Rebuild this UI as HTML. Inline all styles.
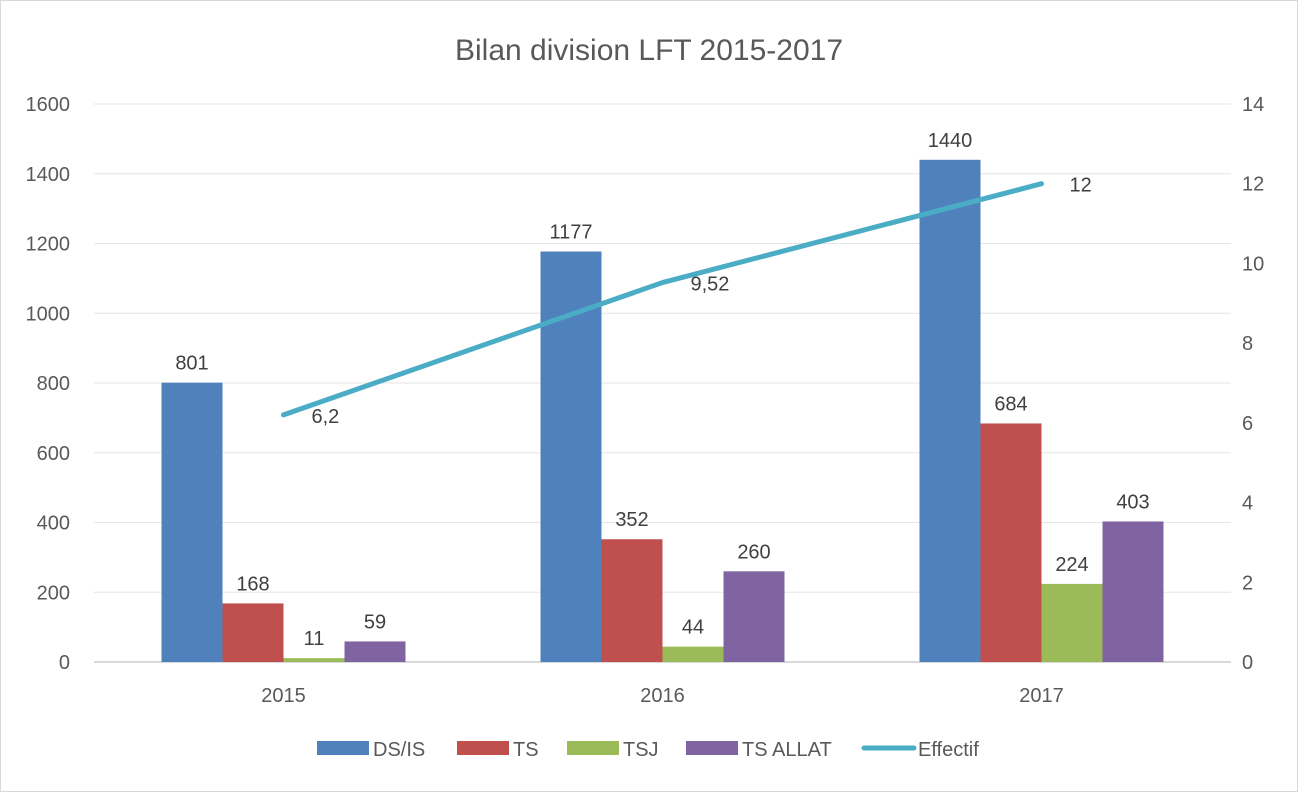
<!DOCTYPE html>
<html><head><meta charset="utf-8"><style>
body{margin:0;background:#fff}
svg{display:block;font-family:"Liberation Sans",sans-serif}
</style></head><body>
<svg id="c" width="1298" height="792">
<rect x="0.5" y="0.5" width="1297" height="791" fill="#fff" stroke="#d9d9d9"/>
<text x="649" y="60" font-size="30" fill="#595959" text-anchor="middle">Bilan division LFT 2015-2017</text>
<g id="grid"></g><g id="bars"></g><g id="line"></g><g id="labels"></g><g id="legend"></g>
</svg>
<script>
const categories=["2015","2016","2017"];
const seriesNames=["DS/IS","TS","TSJ","TS ALLAT"];
const dsis=[801,1177,1440];
const ts=[168,352,684];
const tsj=[11,44,224];
const tsallat=[59,260,403];
const effectif=[6.2,9.52,12];
const effectifLabels=["6,2","9,52","12"];
const leftTicks=[0,200,400,600,800,1000,1200,1400,1600];
const rightTicks=[0,2,4,6,8,10,12,14];
const colors=["#4f81bd","#c0504d","#9bbb59","#8064a2"];
const lineColor="#4bacc6";
const NS="http://www.w3.org/2000/svg";
const x0=94,x1=1231,y0=662,y1=104;
const yL=v=>y0-(v/1600)*(y0-y1);
const yR=v=>y0-(v/14)*(y0-y1);
const groupW=(x1-x0)/categories.length;
const xC=i=>x0+groupW*(i+0.5);
const barW=61;
function mk(tag,attrs,parent,text){const e=document.createElementNS(NS,tag);for(const k in attrs)e.setAttribute(k,attrs[k]);if(text!==undefined)e.textContent=text;document.getElementById(parent).appendChild(e);return e;}
leftTicks.forEach(t=>{
 const l=mk('line',{x1:x0,x2:x1,y1:yL(t),y2:yL(t),stroke:t===0?'#d9d9d9':'#e6e6e6','stroke-width':t===0?2:1},'grid');
 
 
 const tx=mk('text',{x:70,y:yL(t)+7,'font-size':20,fill:'#595959','text-anchor':'end'},'grid',String(t));
 
 
});
rightTicks.forEach(t=>{
 const tx=mk('text',{x:1242,y:yR(t)+7,'font-size':20,fill:'#595959'},'grid',String(t));
 
 
});
categories.forEach((c,i)=>{
 const tx=mk('text',{x:xC(i),y:702,'font-size':20,fill:'#595959','text-anchor':'middle'},'grid',c);
 
 
});
const all=[dsis,ts,tsj,tsallat];
all.forEach((s,si)=>{
 s.forEach((v,i)=>{
  const bx=xC(i)-2*barW+si*barW;
  const r=mk('rect',{x:bx,y:yL(v),width:barW,height:y0-yL(v),fill:colors[si]},'bars');
  
  
  const tx=mk('text',{x:bx+barW/2,y:yL(v)-13,'font-size':20,fill:'#404040','text-anchor':'middle'},'labels',String(v));
  
  
 });
});
const pts=effectif.map((v,i)=>xC(i)+','+yR(v)).join(' ');
const pl=mk('polyline',{points:pts,fill:'none',stroke:lineColor,'stroke-width':5,'stroke-linecap':'round','stroke-linejoin':'round'},'line');


effectif.forEach((v,i)=>{
 const tx=mk('text',{x:xC(i)+28,y:yR(v)+8,'font-size':20,fill:'#404040','text-anchor':'start'},'labels',effectifLabels[i]);
 
 
});
const legX=[317,457,567,686];
seriesNames.forEach((n,i)=>{
 const g=mk('g',{},'legend');
 
 
 const r=document.createElementNS(NS,'rect');
 r.setAttribute('x',legX[i]);r.setAttribute('y',741);r.setAttribute('width',52);r.setAttribute('height',14);r.setAttribute('fill',colors[i]);
 
 
 g.appendChild(r);
 const t=document.createElementNS(NS,'text');
 t.setAttribute('x',legX[i]+56);t.setAttribute('y',756);t.setAttribute('font-size',20);t.setAttribute('fill','#595959');t.textContent=n;
 
 
 g.appendChild(t);
});
const lg=mk('g',{},'legend');


const ll=document.createElementNS(NS,'line');
ll.setAttribute('x1',864);ll.setAttribute('x2',914);ll.setAttribute('y1',748);ll.setAttribute('y2',748);ll.setAttribute('stroke',lineColor);ll.setAttribute('stroke-width',5);ll.setAttribute('stroke-linecap','round');


lg.appendChild(ll);
const lt=document.createElementNS(NS,'text');
lt.setAttribute('x',918);lt.setAttribute('y',756);lt.setAttribute('font-size',20);lt.setAttribute('fill','#595959');lt.textContent='Effectif';


lg.appendChild(lt);
</script>
</body></html>
